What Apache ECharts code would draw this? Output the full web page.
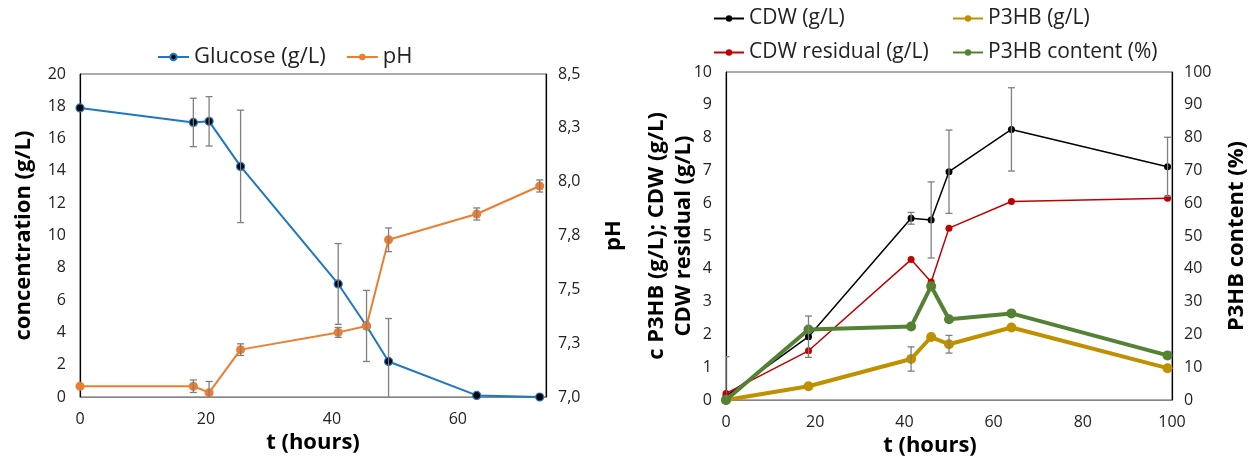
<!DOCTYPE html>
<html><head><meta charset="utf-8">
<script src="https://cdn.jsdelivr.net/npm/echarts@6/dist/echarts.min.js"></script>
<style>html,body{margin:0;padding:0;background:#fff}#c{width:1255px;height:462px}</style>
</head><body><div id="c"></div>
<script>
// ---- Left chart data ----
const tLeft = [0, 18, 20.5, 25.5, 41, 45.5, 49, 63, 73];
const glucose = [17.9, 17.0, 17.07, 14.28, 7.0, 4.4, 2.2, 0.1, 0.0];
const glucoseErr = [0, 1.5, 1.53, 3.48, 2.5, 2.2, 2.66, 0, 0];
const pH = [7.05, 7.05, 7.02, 7.22, 7.30, 7.33, 7.73, 7.85, 7.98];
const pHErr = [0, 0.029, 0.052, 0.027, 0.023, 0, 0.055, 0.028, 0.028];
const pHTickLabels = ['7,0', '7,3', '7,5', '7,8', '8,0', '8,3', '8,5'];
// ---- Right chart data ----
const tRight = [0, 18.5, 41.5, 46, 50, 64, 99];
const cdw = [0.12, 1.93, 5.54, 5.49, 6.96, 8.25, 7.11];
const cdwErr = [1.2, 0.63, 0.18, 1.16, 1.27, 1.27, 0.9];
const cdwResidual = [0.2, 1.5, 4.28, 3.6, 5.24, 6.05, 6.15];
const p3hb = [0, 0.42, 1.25, 1.92, 1.7, 2.21, 0.97];
const p3hbErr = [0, 0, 0.37, 0, 0.27, 0, 0];
const p3hbContent = [0, 21.5, 22.4, 34.7, 24.6, 26.4, 13.6];

const FONT = 'Open Sans';
const zip = (x, y) => x.map((t, i) => [t, y[i]]);

function errSeries(x, y, e, xi, yi) {
  const data = [];
  x.forEach((t, i) => { if (e[i] > 0) data.push([t, y[i] - e[i], y[i] + e[i]]); });
  return {
    type: 'custom', xAxisIndex: xi, yAxisIndex: yi, data: data, z: 5, silent: true, clip: true,
    encode: { x: 0, y: [1, 2] },
    renderItem: function (params, api) {
      const xv = api.value(0);
      const lo = api.coord([xv, api.value(1)]);
      const hi = api.coord([xv, api.value(2)]);
      const w = 3.5;
      const st = { stroke: '#7f7f7f', lineWidth: 1.3 };
      return { type: 'group', children: [
        { type: 'line', shape: { x1: lo[0], y1: lo[1], x2: hi[0], y2: hi[1] }, style: st },
        { type: 'line', shape: { x1: lo[0] - w, y1: lo[1], x2: lo[0] + w, y2: lo[1] }, style: st },
        { type: 'line', shape: { x1: hi[0] - w, y1: hi[1], x2: hi[0] + w, y2: hi[1] }, style: st }
      ]};
    }
  };
}

const tickLabel = { fontFamily: FONT, fontSize: 16, color: '#222' };
const nameStyle = { fontFamily: FONT, fontSize: 22, fontWeight: 'bold', color: '#000' };
const legendText = { fontFamily: FONT, fontSize: 21, color: '#222' };

const option = {
  animation: false,
  backgroundColor: '#fff',
  grid: [
    { left: 80, top: 74, width: 466, height: 323, show: true, borderColor: '#595959', borderWidth: 1 },
    { left: 726, top: 72, width: 446, height: 328, show: true, borderColor: '#595959', borderWidth: 1 }
  ],
  legend: [
    { data: ['Glucose (g/L)', 'pH'], left: 152, top: 41, itemWidth: 31, itemHeight: 8, itemGap: 20,
      textStyle: Object.assign({}, legendText, { fontSize: 22 }) },
    { data: ['CDW (g/L)', 'CDW residual (g/L)'], orient: 'vertical', left: 708, top: 3, itemWidth: 30, itemHeight: 8, itemGap: 13,
      textStyle: legendText },
    { data: ['P3HB (g/L)', 'P3HB content (%)'], orient: 'vertical', left: 947, top: 3, itemWidth: 30, itemHeight: 8, itemGap: 13,
      textStyle: legendText }
  ],
  xAxis: [
    { type: 'value', gridIndex: 0, min: 0, max: 74, interval: 20, splitLine: { show: false },
      axisLine: { lineStyle: { color: '#868686', width: 1.2 } }, axisTick: { show: false },
      axisLabel: Object.assign({ margin: 14, showMaxLabel: false }, tickLabel),
      name: 't (hours)', nameLocation: 'middle', nameGap: 31, nameTextStyle: nameStyle },
    { type: 'value', gridIndex: 1, min: 0, max: 100, interval: 20, splitLine: { show: false },
      axisLine: { lineStyle: { color: '#868686', width: 1.2 } }, axisTick: { show: false },
      axisLabel: Object.assign({ margin: 14 }, tickLabel),
      name: 't (hours)', nameLocation: 'middle', nameGap: 28,
      nameTextStyle: Object.assign({ padding: [0, 38, 0, 0] }, nameStyle) }
  ],
  yAxis: [
    { type: 'value', gridIndex: 0, min: 0, max: 20, interval: 2, splitLine: { show: false },
      axisLine: { show: true, lineStyle: { color: '#000', width: 1.2 } }, axisTick: { show: false },
      axisLabel: Object.assign({ margin: 14 }, tickLabel),
      name: 'concentration (g/L)', nameLocation: 'middle', nameGap: 45, nameRotate: 90, nameTextStyle: nameStyle },
    { type: 'value', gridIndex: 0, position: 'right', min: 7.0, max: 8.5, interval: 0.25, splitLine: { show: false },
      axisLine: { show: true, lineStyle: { color: '#000', width: 1.2 } }, axisTick: { show: false },
      axisLabel: Object.assign({ margin: 12, formatter: v => pHTickLabels[Math.round((v - 7) / 0.25)] }, tickLabel),
      name: 'pH', nameLocation: 'middle', nameGap: 57, nameRotate: 90, nameTextStyle: nameStyle },
    { type: 'value', gridIndex: 1, min: 0, max: 10, interval: 1, splitLine: { show: false },
      axisLine: { show: true, lineStyle: { color: '#000', width: 1.2 } }, axisTick: { show: false },
      axisLabel: Object.assign({ margin: 14 }, tickLabel),
      name: 'c P3HB (g/L); CDW (g/L)\nCDW residual (g/L)', nameLocation: 'middle', nameGap: 29, nameRotate: 90,
      nameMoveOverlap: false,
      nameTextStyle: Object.assign({ lineHeight: 27 }, nameStyle) },
    { type: 'value', gridIndex: 1, position: 'right', min: 0, max: 100, interval: 10, splitLine: { show: false },
      axisLine: { show: true, lineStyle: { color: '#000', width: 1.2 } }, axisTick: { show: false },
      axisLabel: Object.assign({ margin: 12 }, tickLabel),
      name: 'P3HB content (%)', nameLocation: 'middle', nameGap: 54, nameRotate: 90, nameTextStyle: nameStyle }
  ],
  series: [
    errSeries(tLeft, glucose, glucoseErr, 0, 0),
    errSeries(tLeft, pH, pHErr, 0, 1),
    { name: 'Glucose (g/L)', type: 'line', xAxisIndex: 0, yAxisIndex: 0, data: zip(tLeft, glucose),
      symbol: 'circle', symbolSize: 8, z: 3,
      lineStyle: { color: '#1f77c4', width: 2 },
      itemStyle: { color: '#000', borderColor: '#1f77c4', borderWidth: 1.2 } },
    { name: 'pH', type: 'line', xAxisIndex: 0, yAxisIndex: 1, data: zip(tLeft, pH),
      symbol: 'circle', symbolSize: 9, z: 4,
      lineStyle: { color: '#ED7D31', width: 2 },
      itemStyle: { color: '#ED7D31' } },
    errSeries(tRight, cdw, cdwErr, 1, 2),
    errSeries(tRight, p3hb, p3hbErr, 1, 2),
    { name: 'CDW (g/L)', type: 'line', xAxisIndex: 1, yAxisIndex: 2, data: zip(tRight, cdw),
      symbol: 'circle', symbolSize: 7, z: 3,
      lineStyle: { color: '#000', width: 1.5 }, itemStyle: { color: '#000' } },
    { name: 'CDW residual (g/L)', type: 'line', xAxisIndex: 1, yAxisIndex: 2, data: zip(tRight, cdwResidual),
      symbol: 'circle', symbolSize: 7, z: 3,
      lineStyle: { color: '#C00000', width: 1.5 }, itemStyle: { color: '#C00000' } },
    { name: 'P3HB (g/L)', type: 'line', xAxisIndex: 1, yAxisIndex: 2, data: zip(tRight, p3hb),
      symbol: 'circle', symbolSize: 10, z: 3,
      lineStyle: { color: '#BF9000', width: 4 }, itemStyle: { color: '#BF9000' } },
    { name: 'P3HB content (%)', type: 'line', xAxisIndex: 1, yAxisIndex: 3, data: zip(tRight, p3hbContent),
      symbol: 'circle', symbolSize: 10, z: 4,
      lineStyle: { color: '#548235', width: 4 }, itemStyle: { color: '#548235' } }
  ]
};

const chart = echarts.init(document.getElementById('c'), null, { renderer: 'canvas' });
chart.setOption(option);
</script>
</body></html>
